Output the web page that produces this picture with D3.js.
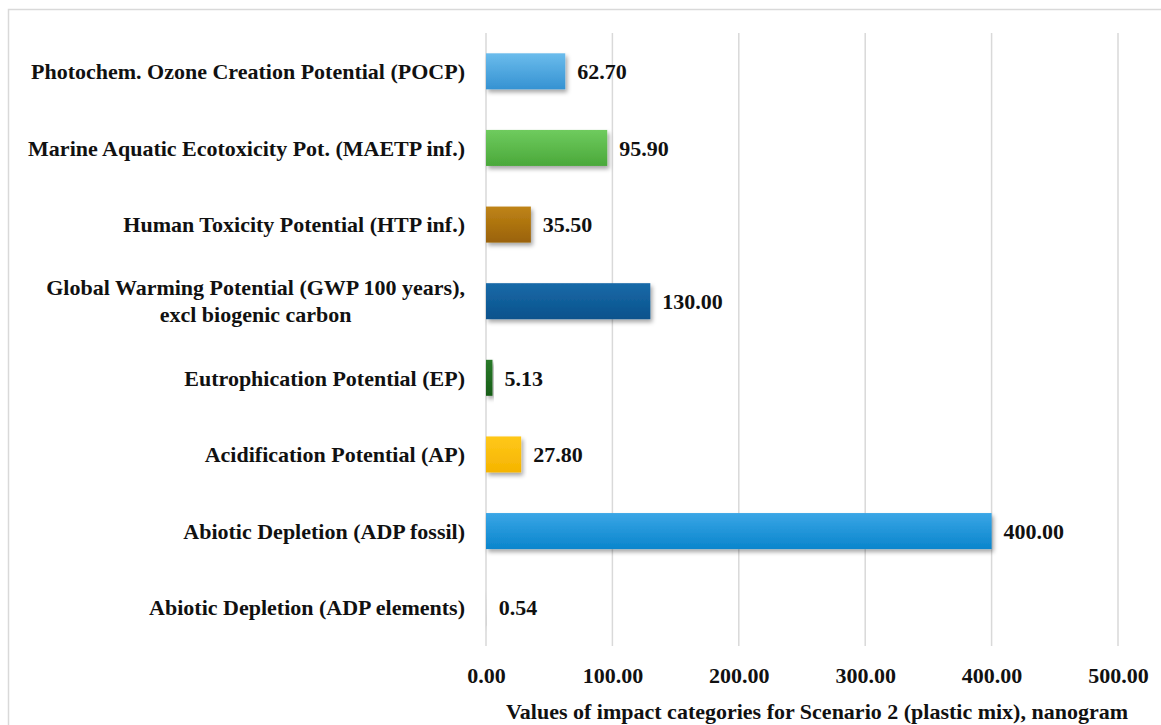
<!DOCTYPE html>
<html>
<head>
<meta charset="utf-8">
<script src="https://cdn.jsdelivr.net/npm/d3@7"></script>
<style>
  html, body { margin: 0; padding: 0; background: #fff; }
  svg { display: block; }
  text { font-family: "Liberation Serif", "Times New Roman", serif; font-weight: bold; fill: #111; }
</style>
</head>
<body>
<svg id="chart" width="1161" height="725"></svg>
<script>
const categories = [
  "Photochem. Ozone Creation Potential (POCP)",
  "Marine Aquatic Ecotoxicity Pot. (MAETP inf.)",
  "Human Toxicity Potential (HTP inf.)",
  "Global Warming Potential (GWP 100 years),|excl biogenic carbon",
  "Eutrophication Potential (EP)",
  "Acidification Potential (AP)",
  "Abiotic Depletion (ADP fossil)",
  "Abiotic Depletion (ADP elements)"
];
const values = [62.70, 95.90, 35.50, 130.00, 5.13, 27.80, 400.00, 0.54];
const colorsTop = ["#6bbcec", "#6fcb5e", "#bf8416", "#1a6aa8", "#2a7a2a", "#ffc81a", "#3aa6e6", "#e4e4e4"];
const colorsBottom = ["#3592d2", "#4aa83a", "#9a6208", "#08528c", "#185e18", "#f5b400", "#0a85cc", "#cfcfcf"];
const xTicks = [0, 100, 200, 300, 400, 500];
const xTitle = "Values of impact categories for Scenario 2 (plastic mix), nanogram";

const FS = 22;
const svg = d3.select("#chart");
const W = 1161, H = 725;

// outer frame
svg.append("path")
  .attr("d", `M8.5,${H} L8.5,9.5 L${W},9.5`)
  .attr("fill", "none").attr("stroke", "#d9d9d9").attr("stroke-width", 1.5);

const x = d3.scaleLinear().domain([0, 500]).range([486, 1118]);
const y = d3.scaleBand().domain(d3.range(categories.length)).range([33, 646]).paddingInner(0.53).paddingOuter(0.265);

const defs = svg.append("defs");
const f = defs.append("filter").attr("id", "shadow").attr("x", "-5%").attr("y", "-20%").attr("width", "120%").attr("height", "160%");
f.append("feDropShadow").attr("dx", 2).attr("dy", 3).attr("stdDeviation", 2).attr("flood-color", "#000").attr("flood-opacity", 0.35);

values.forEach((v, i) => {
  const g = defs.append("linearGradient").attr("id", "grad" + i).attr("x1", 0).attr("y1", 0).attr("x2", 0).attr("y2", 1);
  g.append("stop").attr("offset", "0%").attr("stop-color", colorsTop[i]);
  g.append("stop").attr("offset", "100%").attr("stop-color", colorsBottom[i]);
});

// gridlines
svg.append("g").selectAll("line").data(xTicks).join("line")
  .attr("x1", d => x(d)).attr("x2", d => x(d))
  .attr("y1", 33).attr("y2", 646)
  .attr("stroke", "#d9d9d9").attr("stroke-width", 1.5);

// bars
svg.append("g").selectAll("rect").data(values).join("rect")
  .attr("x", x(0)).attr("y", (d, i) => y(i))
  .attr("width", d => x(d) - x(0)).attr("height", y.bandwidth())
  .attr("fill", (d, i) => `url(#grad${i})`)
  .attr("filter", "url(#shadow)");

// value labels
svg.append("g").selectAll("text").data(values).join("text")
  .attr("x", d => x(d) + 12).attr("y", (d, i) => y(i) + y.bandwidth() / 2)
  .attr("dy", "0.35em").attr("font-size", FS)
  .text(d => d.toFixed(2));

// category labels
const catG = svg.append("g");
categories.forEach((c, i) => {
  const lines = c.split("|");
  const cy = y(i) + y.bandwidth() / 2;
  if (lines.length === 1) {
    catG.append("text").attr("x", 465).attr("y", cy).attr("dy", "0.35em")
      .attr("text-anchor", "end").attr("font-size", FS).text(lines[0]);
  } else {
    const t = catG.append("text").attr("font-size", FS).attr("text-anchor", "middle");
    const t1 = t.append("tspan").attr("y", cy - 13.5).attr("dy", "0.35em").text(lines[0]);
    const w = t1.node().getComputedTextLength();
    const cx = 465 - w / 2;
    t1.attr("x", cx);
    t.append("tspan").attr("x", cx).attr("y", cy + 13.5).attr("dy", "0.35em").text(lines[1]);
  }
});

// x axis tick labels
const xAxis = d3.axisBottom(x).tickValues(xTicks).tickFormat(d => d.toFixed(2)).tickSize(0).tickPadding(0);
const ax = svg.append("g").attr("transform", "translate(0,667)").call(xAxis);
ax.select(".domain").remove();
ax.selectAll("text").attr("font-size", FS).attr("font-family", "Liberation Serif").attr("font-weight", "bold").attr("fill", "#111");

// axis title
svg.append("text").attr("x", 817).attr("y", 711).attr("dy", "0.35em")
  .attr("text-anchor", "middle").attr("font-size", FS).text(xTitle);
</script>
</body>
</html>
